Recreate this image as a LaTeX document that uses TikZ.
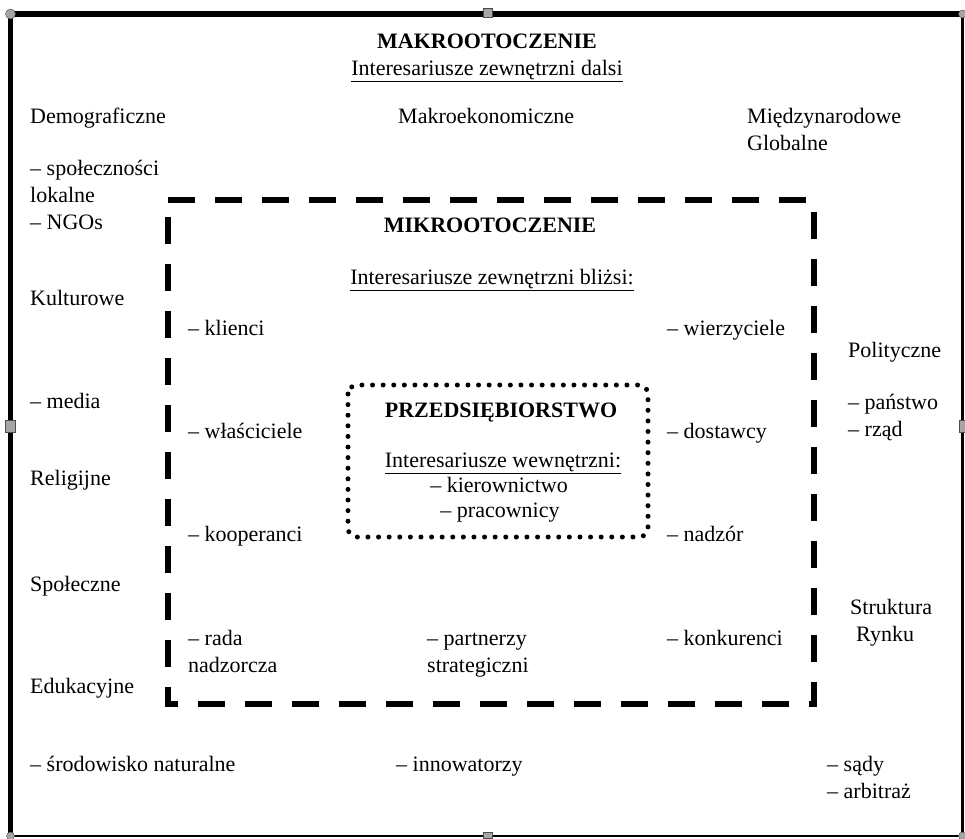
\documentclass[tikz,border=0pt]{standalone}
\usepackage{fontspec}
\setmainfont{Liberation Serif}
\newcommand{\txtsize}{\fontsize{22}{27}\selectfont}
% multi-line labels are anchored at the baseline of their last line
\tikzset{
  lbl/.style={anchor=base west, inner sep=0pt, font=\txtsize, align=left},
  ctr/.style={anchor=base, inner sep=0pt, font=\txtsize, align=center},
  head/.style={anchor=base, inner sep=0pt, font=\txtsize\bfseries},
  handle/.style={fill=gray!70, draw=gray!60!black, line width=0.4pt},
  zonebox/.style={line width=6pt, dash pattern=on 27pt off 20pt},
  corebox/.style={line width=5pt, line cap=round, dash pattern=on 0pt off 10.6pt, rounded corners=9pt}
}
\begin{document}
\begin{tikzpicture}[x=1pt,y=-1pt]
\useasboundingbox (0,0) rectangle (965,838);

% outer frame: thick top and left edges, thinner right and bottom
\draw[line width=2.5pt] (10.5,14) rectangle (962.5,836);
\draw[line width=5.5pt] (10.5,836) -- (10.5,14) -- (962.5,14);
\fill[handle] (10.5,14) circle (5pt);
\fill[handle] (962.5,836) circle (4pt);
\fill[handle] (10.5,836) circle (4pt);
\fill[handle] (962.5,14) circle (4pt);
\fill[handle] (483,8) rectangle (492,17);
\fill[handle] (5,420) rectangle (15,432);
\fill[handle] (959,420) rectangle (966,432);
\fill[handle] (483,832) rectangle (492,838);

% macro environment
\node[head] (makro) at (487,48) {MAKROOTOCZENIE};
\node[ctr] (dalsi) at (487,75) {\underline{Interesariusze zewnętrzni dalsi}};
\node[lbl] (demo) at (30,123) {Demograficzne};
\node[lbl] (makroek) at (398,123) {Makroekonomiczne};
\node[lbl] (miedzy) at (747,150) {Międzynarodowe\\Globalne};
\node[lbl] (spol) at (30,229) {– społeczności\\lokalne\\– NGOs};
\node[lbl] (kult) at (30,305) {Kulturowe};
\node[lbl] (media) at (30,408) {– media};
\node[lbl] (relig) at (30,485) {Religijne};
\node[lbl] (spoleczne) at (30,591) {Społeczne};
\node[lbl] (eduk) at (30,693) {Edukacyjne};
\node[lbl] (srod) at (30,771) {– środowisko naturalne};
\node[lbl] (innow) at (396,771) {– innowatorzy};
\node[lbl] (sady) at (827,798) {– sądy\\– arbitraż};
\node[lbl] (polit) at (848,357) {Polityczne};
\node[lbl] (panstwo) at (848,436) {– państwo\\– rząd};
\node[lbl] (rynek) at (850,641) {Struktura\\\hspace*{6pt}Rynku};

% micro environment, drawn clockwise from the top-left corner
\draw[zonebox] (168,200) -- (814,200) -- (814,704) -- (168,704) -- cycle;
\node[head] (mikro) at (490,232) {MIKROOTOCZENIE};
\node[ctr] (blizsi) at (492,284) {\underline{Interesariusze zewnętrzni bliżsi:}};
\node[lbl] (klienci) at (188,335) {– klienci};
\node[lbl] (wlasc) at (188,438) {– właściciele};
\node[lbl] (koop) at (188,541) {– kooperanci};
\node[lbl] (rada) at (188,672) {– rada\\nadzorcza};
\node[lbl] (partn) at (427,672) {– partnerzy\\strategiczni};
\node[lbl] (wierz) at (667,335) {– wierzyciele};
\node[lbl] (dost) at (667,438) {– dostawcy};
\node[lbl] (nadzor) at (667,541) {– nadzór};
\node[lbl] (konk) at (667,645) {– konkurenci};

% the enterprise itself
\draw[corebox] (348,385) rectangle (648,537);
\node[head] (firma) at (501,417) {PRZEDSIĘBIORSTWO};
\node[ctr] (wewn) at (503,467) {\underline{Interesariusze wewnętrzni:}};
\node[ctr] (kier) at (499,492) {– kierownictwo};
\node[ctr] (prac) at (500,517) {– pracownicy};
\end{tikzpicture}
\end{document}
